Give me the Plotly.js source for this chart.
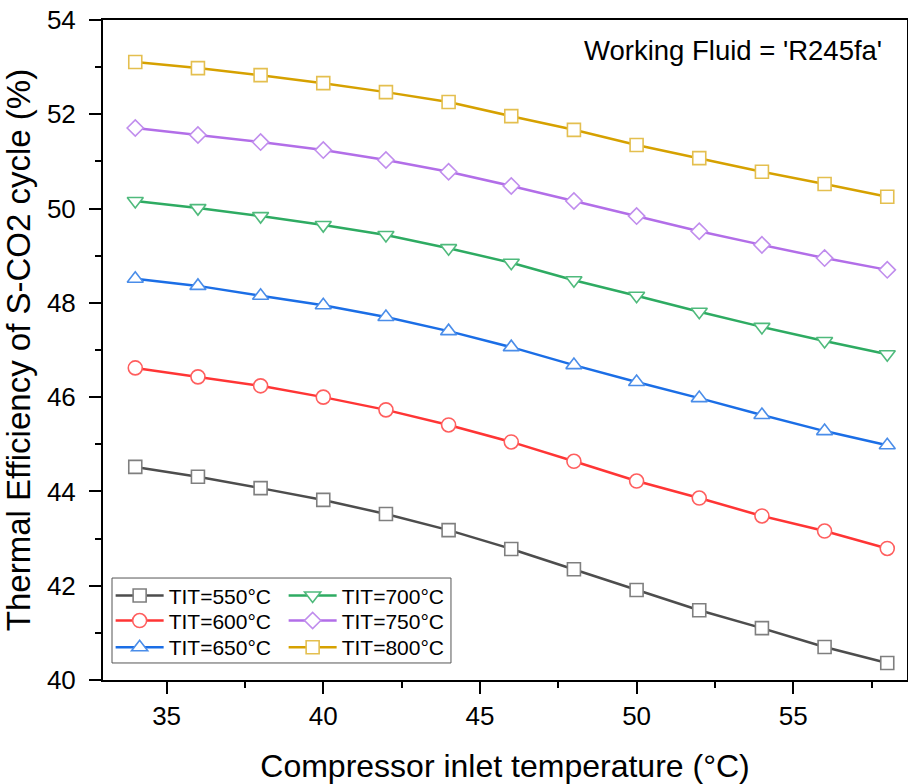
<!DOCTYPE html>
<html>
<head>
<meta charset="utf-8">
<script src="https://cdn.plot.ly/plotly-3.0.1.min.js"></script>
<style>html,body{margin:0;padding:0;background:#fff;}#chart{width:908px;height:784px;}</style>
</head>
<body>
<div id="chart"></div>
<script>
const xTemp = [34, 36, 38, 40, 42, 44, 46, 48, 50, 52, 54, 56, 58];
const tit550 = [44.52, 44.31, 44.07, 43.82, 43.52, 43.18, 42.78, 42.35, 41.91, 41.48, 41.10, 40.70, 40.36];
const tit600 = [46.62, 46.43, 46.24, 46.00, 45.73, 45.41, 45.05, 44.64, 44.22, 43.86, 43.48, 43.16, 42.79];
const tit650 = [48.51, 48.36, 48.15, 47.95, 47.70, 47.40, 47.06, 46.68, 46.32, 45.98, 45.62, 45.28, 44.98];
const tit700 = [50.16, 50.01, 49.84, 49.65, 49.44, 49.16, 48.85, 48.48, 48.15, 47.81, 47.49, 47.19, 46.91];
const tit750 = [51.71, 51.56, 51.41, 51.24, 51.03, 50.78, 50.48, 50.16, 49.84, 49.52, 49.23, 48.95, 48.70];
const tit800 = [53.11, 52.98, 52.83, 52.66, 52.47, 52.26, 51.96, 51.67, 51.35, 51.07, 50.78, 50.52, 50.25];
const seriesNames = ['TIT=550°C', 'TIT=600°C', 'TIT=650°C', 'TIT=700°C', 'TIT=750°C', 'TIT=800°C'];
const xTickVals = [35, 40, 45, 50, 55];
const yTickVals = [40, 42, 44, 46, 48, 50, 52, 54];

const FONT = 'Liberation Sans, Arial, sans-serif';
// legend rows: row 1 = 550 & 700, row 2 = 600 & 750, row 3 = 650 & 800
const styles = [
  {line: '#4d4d4d', mk: '#7f7f7f', sym: 'square', size: 13, legend: 'legend'},
  {line: '#ff3535', mk: '#ff5e5e', sym: 'circle', size: 14, legend: 'legend2'},
  {line: '#1b6ee6', mk: '#4a8de9', sym: 'triangle-up', size: 14, legend: 'legend3'},
  {line: '#2eab62', mk: '#4fba7c', sym: 'triangle-down', size: 14, legend: 'legend'},
  {line: '#b26ee8', mk: '#c08ded', sym: 'diamond', size: 12.5, legend: 'legend2'},
  {line: '#d6a100', mk: '#e4bf4f', sym: 'square', size: 13, legend: 'legend3'}
];
const ys = [tit550, tit600, tit650, tit700, tit750, tit800];
const order = [0, 3, 1, 4, 2, 5];

const traces = order.map(i => ({
  type: 'scatter', mode: 'lines+markers',
  x: xTemp, y: ys[i], name: seriesNames[i],
  legend: styles[i].legend,
  line: {color: styles[i].line, width: 2.5},
  marker: {symbol: styles[i].sym, size: styles[i].size, color: '#ffffff',
           line: {color: styles[i].mk, width: 1.6}}
}));

const axisCommon = {
  showline: true, linecolor: '#000', linewidth: 2, mirror: true,
  ticks: 'outside', ticklen: 12, tickwidth: 2, tickcolor: '#000',
  showgrid: false, zeroline: false,
  tickfont: {family: FONT, size: 26, color: '#000'}
};

function legendRow(yTop) {
  return {
    orientation: 'h', x: 0.0095, y: yTop, xanchor: 'left', yanchor: 'top',
    bgcolor: 'rgba(0,0,0,0)', borderwidth: 0, tracegroupgap: 0,
    itemwidth: 48, entrywidth: 110, entrywidthmode: 'pixels',
    font: {family: FONT, size: 21, color: '#000'}
  };
}

const layout = {
  width: 908, height: 784,
  margin: {l: 103, r: 1, t: 20, b: 104},
  paper_bgcolor: '#fff', plot_bgcolor: '#fff',
  font: {family: FONT, color: '#000'},
  showlegend: true,
  xaxis: Object.assign({}, axisCommon, {
    range: [32.97, 58.63], tickmode: 'array', tickvals: xTickVals,
    minor: {dtick: 2.5, tick0: 35, ticks: 'outside', ticklen: 6, tickwidth: 2, tickcolor: '#000'},
    title: {text: 'Compressor inlet temperature (°C)', font: {family: FONT, size: 32, color: '#000'}, standoff: 30}
  }),
  yaxis: Object.assign({}, axisCommon, {
    range: [40, 54], tickmode: 'array', tickvals: yTickVals,
    ticklabelstandoff: 8,
    minor: {dtick: 1, tick0: 40, ticks: 'outside', ticklen: 6, tickwidth: 2, tickcolor: '#000'},
    title: {text: 'Thermal Efficiency of S-CO2 cycle (%)', font: {family: FONT, size: 33, color: '#000'}, standoff: 6}
  }),
  legend: legendRow(0.1585),
  legend2: legendRow(0.1206),
  legend3: legendRow(0.0802),
  shapes: [{
    type: 'rect', xref: 'paper', yref: 'paper',
    x0: 0.0112, x1: 0.4328, y0: 0.0258, y1: 0.1545,
    line: {color: '#555', width: 1}, fillcolor: 'rgba(0,0,0,0)'
  }],
  annotations: [{
    xref: 'paper', yref: 'paper', x: 0.7836, y: 0.9545,
    xanchor: 'center', yanchor: 'middle', showarrow: false,
    text: "Working Fluid = 'R245fa'",
    font: {family: FONT, size: 27.5, color: '#000'}
  }]
};

Plotly.newPlot('chart', traces, layout, {displayModeBar: false, staticPlot: true});
</script>
</body>
</html>
